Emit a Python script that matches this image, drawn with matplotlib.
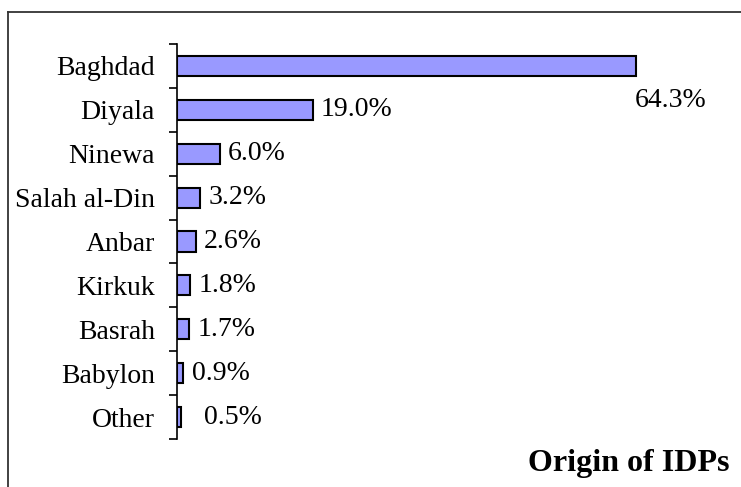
import numpy as np
import matplotlib.pyplot as plt
from matplotlib.lines import Line2D

#Data
regions = ["Baghdad", "Diyala", "Ninewa", "Salah al-Din", "Anbar",
           "Kirkuk", "Basrah", "Babylon", "Other"]
shares = [64.3, 19.0, 6.0, 3.2, 2.6, 1.8, 1.7, 0.9, 0.5]
value_labels = ["64.3%", "19.0%", "6.0%", "3.2%", "2.6%",
                "1.8%", "1.7%", "0.9%", "0.5%"]
chart_title = "Origin of IDPs"

plt.rcParams['font.family'] = ['Liberation Serif', 'DejaVu Serif']

W, H = 741, 487
fig = plt.figure(figsize=(W / 100, H / 100), dpi=100)
fig.patch.set_facecolor("white")

#axes placed in pixels
ax_left, ax_top, ax_bottom = 177, 44, 439
ax = fig.add_axes([ax_left / W, 1 - ax_bottom / H, (W - ax_left) / W, (ax_bottom - ax_top) / H])

y = np.arange(len(regions))
ax.barh(y, shares, height=0.46, color="#9999ff", edgecolor="black", linewidth=1.5)

ax.set_ylim(len(regions) - 0.5, -0.5)
ax.set_xlim(0, (W - ax_left) / 7.14)

ax.set_yticks(y)
ax.set_yticklabels(regions, fontsize=20)
ax.tick_params(axis='y', which='major', length=0, pad=16)
ax.set_yticks(np.arange(len(regions) + 1) - 0.5, minor=True)
ax.tick_params(axis='y', which='minor', length=6, width=1.2, direction='out')
ax.set_xticks([])

for s in ["top", "right", "bottom"]:
    ax.spines[s].set_visible(False)
ax.spines["left"].set_linewidth(1.2)

#value labels
for i, (v, lab) in enumerate(zip(shares, value_labels)):
    if i == 0:
        ax.annotate(lab, xy=(v, i), xytext=(25, -25), textcoords="offset points",
                    ha="center", va="center", fontsize=20)
    elif i == len(regions) - 1:
        ax.annotate(lab, xy=(v, i), xytext=(17, 0), textcoords="offset points",
                    ha="left", va="center", fontsize=20)
    else:
        ax.annotate(lab, xy=(v, i), xytext=(6, 0), textcoords="offset points",
                    ha="left", va="center", fontsize=20)

fig.text(730 / W, 1 - 463 / H, chart_title, ha="right", va="center",
         fontsize=23, fontweight="bold")

#outer frame (left and top only, rest is cropped)
fx, fy = 8 / W, 1 - 12 / H
fig.add_artist(Line2D([fx, fx], [0, fy], color="#333333", linewidth=1.3))
fig.add_artist(Line2D([fx, 1], [fy, fy], color="#333333", linewidth=1.3))

fig.savefig("out.png", dpi=100)
